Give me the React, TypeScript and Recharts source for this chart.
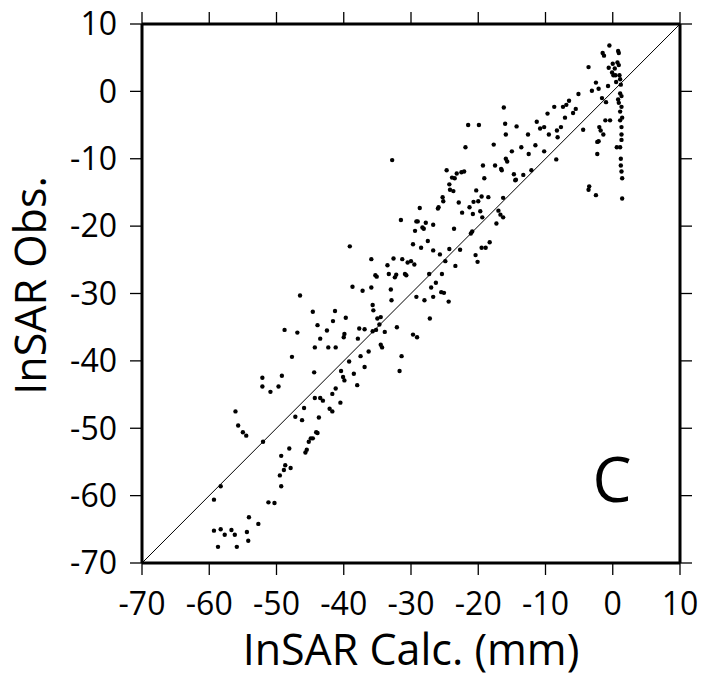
import { ScatterChart, Scatter, XAxis, YAxis, ReferenceLine } from 'recharts';

const axisTicks = [-70, -60, -50, -40, -30, -20, -10, 0, 10];

// InSAR calculated (x) and observed (y), mm
const calc = [
  -59.3, -58.3, -59.3, -58.7, -58.3, -57.7, -56.7, -56.2, -55.9, -54.4, -54.2, -54.1, -52.7, -52.0,
  -56.1, -55.7, -55.0, -54.5, -52.1, -52.1, -50.9, -49.7, -49.2, -51.2, -50.3, -49.3, -49.5, -48.9,
  -48.7, -47.9, -49.3, -48.1, -48.8, -47.7, -47.2, -46.9, -46.5, -46.2, -45.9, -45.7, -45.5, -45.2,
  -44.9, -44.6, -44.6, -44.4, -44.3, -44.3, -44.1, -43.9, -43.9, -43.7, -43.5, -43.5, -43.1, -42.5,
  -42.3, -42.1, -41.7, -41.6, -41.3, -41.2, -41.7, -41.2, -40.5, -40.4, -40.1, -40.0, -39.9, -39.9,
  -39.7, -39.2, -39.1, -38.7, -38.5, -38.0, -37.9, -37.7, -37.5, -37.2, -36.9, -36.9, -36.3, -35.9,
  -35.9, -35.7, -35.7, -35.6, -35.3, -35.2, -35.1, -35.0, -34.7, -34.5, -34.5, -34.3, -33.9, -33.5,
  -33.3, -33.0, -32.9, -32.8, -32.6, -32.4, -32.2, -32.1, -31.7, -31.5, -31.4, -31.3, -30.9, -30.7,
  -30.5, -30.0, -29.7, -29.7, -29.5, -29.4, -29.2, -29.2, -29.1, -29.0, -28.7, -28.5, -28.3, -28.1,
  -28.0, -27.8, -27.5, -27.3, -27.2, -27.0, -26.7, -26.7, -26.7, -26.3, -26.0, -25.9, -25.7, -25.5,
  -25.4, -25.3, -25.2, -25.1, -24.9, -24.7, -24.4, -24.3, -24.3, -24.2, -23.9, -23.7, -23.6, -23.5,
  -23.4, -23.2, -22.9, -22.7, -22.5, -22.4, -22.1, -21.9, -21.5, -21.3, -21.1, -20.9, -20.8, -20.7,
  -20.4, -20.3, -20.1, -20.0, -19.9, -19.7, -19.5, -19.5, -19.4, -19.3, -19.1, -18.9, -18.5, -18.3,
  -17.7, -17.5, -17.3, -17.0, -16.7, -16.6, -16.5, -16.3, -16.3, -16.2, -16.0, -15.9, -15.9, -15.7,
  -15.0, -14.7, -14.5, -14.4, -14.3, -13.6, -13.3, -12.6, -12.5, -12.1, -11.5, -11.3, -10.8, -10.2,
  -10.2, -9.7, -9.5, -8.7, -8.4, -8.3, -8.2, -7.7, -7.4, -7.1, -6.9, -6.5, -5.9, -5.5,
  -5.1, -4.4, -3.6, -3.6, -3.5, -3.1, -2.5, -2.5, -2.3, -2.3, -2.1, -2.1, -2.0, -1.8,
  -1.6, -1.5, -1.4, -1.3, -1.1, -1.0, -0.7, -0.6, -0.5, -0.4, -0.1, 0.0, 0.1, 0.3,
  0.4, 0.5, 0.6, 0.7, 0.8, 0.8, 0.9, 0.9, 0.9, 1.0, 1.1, 1.1, 1.1, 1.1,
  1.1, 1.2, 1.2, 1.3, 1.3, 1.3, 1.3, 1.3, 1.3, 1.4, 1.4, 1.4, 1.2,
];

const obs = [
  -60.6, -58.6, -65.2, -67.6, -65.0, -65.8, -65.1, -65.8, -67.6, -65.4, -66.7, -63.2, -64.2, -52.0,
  -47.5, -49.6, -50.6, -51.1, -42.5, -43.8, -44.6, -43.8, -42.2, -61.0, -61.1, -58.6, -57.0, -56.2,
  -55.5, -55.9, -54.1, -53.0, -35.4, -39.4, -48.3, -35.8, -30.3, -48.8, -47.0, -53.6, -53.2, -52.0,
  -51.5, -51.5, -32.7, -41.7, -45.5, -38.0, -50.6, -50.7, -34.7, -48.4, -36.7, -45.5, -45.9, -35.5,
  -38.0, -47.1, -47.5, -34.1, -32.6, -38.0, -44.9, -44.1, -46.2, -41.5, -42.4, -36.5, -36.0, -42.9,
  -33.6, -40.1, -23.0, -29.0, -41.9, -43.6, -36.7, -35.2, -39.3, -29.6, -35.3, -40.9, -38.6, -24.9,
  -29.1, -31.7, -35.6, -32.5, -27.3, -35.4, -27.5, -33.7, -34.6, -33.5, -37.6, -38.0, -35.7, -25.8,
  -27.1, -29.4, -31.0, -10.2, -24.8, -27.6, -27.2, -35.0, -41.5, -19.1, -39.3, -24.9, -27.1, -27.3,
  -25.4, -25.2, -22.7, -36.1, -25.7, -20.7, -19.3, -30.5, -36.5, -19.3, -17.3, -23.2, -20.2, -20.4,
  -31.0, -19.5, -22.2, -27.1, -33.7, -29.1, -19.8, -23.6, -30.5, -28.4, -17.4, -17.2, -24.2, -29.8,
  -27.1, -15.7, -16.3, -29.9, -25.2, -11.7, -31.2, -13.8, -23.4, -14.6, -12.8, -14.8, -20.4, -12.9,
  -25.9, -12.2, -16.5, -23.5, -12.0, -18.0, -11.9, -8.3, -5.0, -17.2, -21.1, -20.8, -18.2, -16.4,
  -24.3, -14.7, -25.3, -16.3, -5.0, -17.8, -15.6, -23.2, -18.7, -11.0, -12.9, -23.2, -15.7, -22.4,
  -7.9, -11.0, -19.6, -17.7, -18.3, -11.5, -11.7, -15.8, -18.7, -2.4, -4.8, -6.4, -10.0, -10.4,
  -8.9, -12.3, -13.2, -13.1, -5.2, -8.3, -12.4, -6.4, -9.3, -11.7, -8.0, -4.5, -5.5, -5.3,
  -8.9, -3.3, -6.4, -2.3, -10.1, -5.8, -6.8, -5.3, -2.3, -3.9, -2.0, -1.4, -3.2, -2.6,
  -0.4, -5.7, 3.6, -14.6, -14.1, 0.1, -15.4, 1.3, -9.3, -7.5, -7.4, 0.4, -5.3, -5.8,
  -1.0, 5.7, -6.4, 5.3, -4.3, -1.6, 0.8, 3.5, 6.8, -4.3, 2.8, 4.1, 2.4, 3.4,
  2.4, 1.4, -8.3, 4.3, 6.0, -1.2, 5.7, 3.9, -1.7, 2.4, 1.8, -8.3, -0.3, -3.0,
  -4.3, -10.0, -11.0, -5.3, -11.9, -6.4, -2.3, -0.7, -7.2, -12.9, -3.9, -15.9, 1.0,
];

const points = calc.map((x, i) => ({ x, y: obs[i] }));
const noPoints: { x: number; y: number }[] = [];

const font = '"Open Sans", sans-serif';
const TS = 12; // tick length
const frame = { stroke: '#000', strokeWidth: 3 };

// plot box edges in px (follow from the margins / axis sizes below)
const BOX = { left: 142, right: 680, top: 24, bottom: 563 };

// ticks drawn by hand so they point outward on all four sides
const BottomTick = ({ x, payload }: any) => (
  <g>
    <line x1={x} x2={x} y1={BOX.bottom} y2={BOX.bottom + TS} stroke="#000" strokeWidth={1.3} />
    <text x={x} y={BOX.bottom + TS + 17} dy="0.71em" textAnchor="middle" fontSize={32} fontFamily={font} fill="#000">
      {payload.value}
    </text>
  </g>
);
const LeftTick = ({ y, payload }: any) => (
  <g>
    <line x1={BOX.left - TS} x2={BOX.left} y1={y} y2={y} stroke="#000" strokeWidth={1.3} />
    <text x={BOX.left - TS - 13} y={y} dy="0.355em" textAnchor="end" fontSize={32} fontFamily={font} fill="#000">
      {payload.value}
    </text>
  </g>
);
const TopTick = ({ x }: any) => (
  <line x1={x} x2={x} y1={BOX.top - TS} y2={BOX.top} stroke="#000" strokeWidth={1.3} />
);
const RightTick = ({ y }: any) => (
  <line x1={BOX.right} x2={BOX.right + TS} y1={y} y2={y} stroke="#000" strokeWidth={1.3} />
);

const Dot = (props: any) => <circle cx={props.cx} cy={props.cy} r={2.2} fill="#000" />;

export default function App() {
  return (
    <div style={{ position: 'absolute', left: 0, top: 0, fontFamily: font }}>
      <ScatterChart width={703} height={679} margin={{ top: 23, right: 22, bottom: 0, left: 0 }}>
        <XAxis
          type="number"
          dataKey="x"
          domain={[-70, 10]}
          ticks={axisTicks}
          height={116}
          tick={<BottomTick />}
          tickLine={false}
          axisLine={frame}
          allowDataOverflow
          label={{ value: 'InSAR Calc. (mm)', position: 'insideBottom', offset: 14, fontSize: 43, fill: '#000', fontFamily: font }}
        />
        <XAxis
          xAxisId="top"
          orientation="top"
          type="number"
          dataKey="x"
          domain={[-70, 10]}
          ticks={axisTicks}
          height={1}
          tick={<TopTick />}
          tickLine={false}
          axisLine={frame}
          allowDataOverflow
        />
        <YAxis
          type="number"
          dataKey="y"
          domain={[-70, 10]}
          ticks={axisTicks}
          width={142}
          tick={<LeftTick />}
          tickLine={false}
          axisLine={frame}
          allowDataOverflow
          label={{
            content: (p: any) => {
              const vb = p.viewBox;
              const cx = vb.x + 46;
              const cy = vb.y + vb.height / 2 - 8;
              return (
                <text
                  x={cx}
                  y={cy}
                  transform={`rotate(-90, ${cx}, ${cy})`}
                  textAnchor="middle"
                  fontSize={43}
                  fontFamily={font}
                  fill="#000"
                >
                  InSAR Obs.
                </text>
              );
            },
          }}
        />
        <YAxis
          yAxisId="right"
          orientation="right"
          type="number"
          dataKey="y"
          domain={[-70, 10]}
          ticks={axisTicks}
          width={1}
          tick={<RightTick />}
          tickLine={false}
          axisLine={frame}
          allowDataOverflow
        />
        <ReferenceLine
          segment={[
            { x: -70, y: -70 },
            { x: 10, y: 10 },
          ]}
          stroke="#000"
          strokeWidth={1}
        />
        <Scatter data={points} shape={Dot} isAnimationActive={false} />
        <Scatter data={noPoints} xAxisId="top" yAxisId="right" isAnimationActive={false} />
        <text x={612} y={502} textAnchor="middle" fontSize={62} fontFamily={font} fill="#000">
          C
        </text>
      </ScatterChart>
    </div>
  );
}
